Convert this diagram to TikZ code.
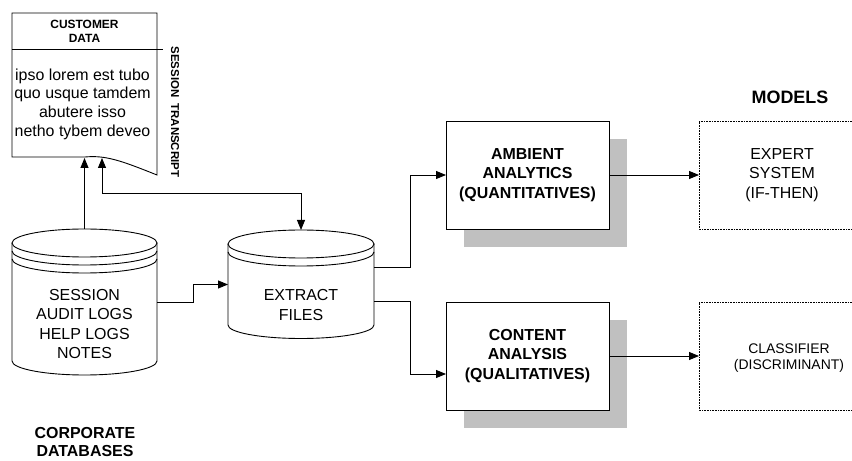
\documentclass[tikz,border=0pt]{standalone}
\usepackage{fontspec}
\setmainfont{Liberation Sans}
\usetikzlibrary{arrows.meta,shadows}
\definecolor{shade}{RGB}{192,192,192}
\tikzset{
  wire/.style={line width=0.9bp, draw=black},
  tip/.style={wire, -{Triangle[length=10bp,width=8bp]}},
  bothtips/.style={wire, {Triangle[length=10bp,width=8bp]}-{Triangle[length=10bp,width=8bp]}},
  anchorbox/.style={inner sep=0, outer sep=0},
  procbox/.style={draw, line width=0.9bp, fill=white, inner sep=0, outer sep=0,
    minimum width=163bp, minimum height=108bp, align=center,
    font=\fontsize{16}{19.5}\selectfont\bfseries,
    drop shadow={shadow xshift=18bp, shadow yshift=-18bp, fill=shade, opacity=1}},
  modelbox/.style={inner sep=0, outer sep=0, minimum height=108bp, align=center,
    font=\fontsize{16}{19.5}\selectfont},
  dotline/.style={line width=0.8bp, dash pattern=on 0.8bp off 0.8bp},
  plain/.style={align=center, inner sep=0, font=\fontsize{16}{19.3}\selectfont},
  heading/.style={align=center, inner sep=0, font=\fontsize{16}{19}\selectfont\bfseries}
}
\begin{document}
\begin{tikzpicture}[x=1bp, y=-1bp]
\path[use as bounding box] (0,0) rectangle (852,461);
\fill[white] (0,0) rectangle (852,461);
\coordinate (rim) at (852,0);

% customer data sheet
\draw[wire, fill=white] (12,13) -- (157,13) -- (157,175)
  .. controls (122,161) and (106,155) .. (85,157) -- (12,157) -- cycle;
\draw[wire] (12,49) -- (163,49);
\node[align=center, inner sep=0, font=\fontsize{12}{14}\selectfont\bfseries] (doctitle) at (84.5,31) {CUSTOMER\\DATA};
\node[align=center, inner sep=0, font=\fontsize{16}{18.7}\selectfont] (docbody) at (82.5,104)
  {ipso lorem est tubo\\quo usque tamdem\\abutere isso\\netho tybem deveo};
\node[inner sep=0, rotate=-90, font=\fontsize{11.5}{13}\selectfont\bfseries] (doctag) at (175,112)
  {SESSION\hspace{6bp}TRANSCRIPT};
\coordinate (dA) at (84.5,158);
\coordinate (dB) at (102,158);

% corporate databases cylinder
\node[anchorbox, minimum width=145bp, minimum height=146bp] (corp) at (84.5,302) {};
\filldraw[wire, fill=white] (12,243) -- (12,361)
  arc[start angle=180, end angle=360, x radius=72.5bp, y radius=14bp] -- (157,243);
\filldraw[wire, fill=white] (84.5,243) ellipse [x radius=72.5bp, y radius=14bp];
\draw[wire] (12,251) arc[start angle=180, end angle=360, x radius=72.5bp, y radius=14bp];
\draw[wire] (12,259) arc[start angle=180, end angle=360, x radius=72.5bp, y radius=14bp];
\node[plain] (corptext) at (84.5,324) {SESSION\\AUDIT LOGS\\HELP LOGS\\NOTES};
\node[heading] (corpname) at (85,442) {CORPORATE\\DATABASES};

% extract files cylinder
\node[anchorbox, minimum width=146bp, minimum height=109bp] (ext) at (301,284.5) {};
\filldraw[wire, fill=white] (228,244) -- (228,325)
  arc[start angle=180, end angle=360, x radius=73bp, y radius=13.5bp] -- (374,244);
\filldraw[wire, fill=white] (301,244) ellipse [x radius=73bp, y radius=14bp];
\draw[wire] (228,252) arc[start angle=180, end angle=360, x radius=73bp, y radius=14bp];
\node[plain] (exttext) at (301,305) {EXTRACT\\FILES};

% analysis boxes
\node[procbox] (amb) at (527.5,175) {AMBIENT\\ANALYTICS\\(QUANTITATIVES)};
\node[procbox] (con) at (527.5,356) {CONTENT\\ANALYSIS\\(QUALITATIVES)};

% models (boxes run on past the right edge)
\node[heading, font=\fontsize{18}{20}\selectfont\bfseries] (models) at (790,97) {MODELS};
\node[modelbox, minimum width=166bp] (exp) at (782,175) {EXPERT\\SYSTEM\\(IF-THEN)};
\draw[dotline] (exp.north west -| rim) -- (exp.north west) -- (exp.south west) -- (exp.south west -| rim);
\node[modelbox, minimum width=180bp, font=\fontsize{14}{16}\selectfont] (cls) at (789,358)
  {CLASSIFIER\\(DISCRIMINANT)};
\draw[dotline] ([yshift=2bp]cls.north west -| rim) -- ([yshift=2bp]cls.north west)
  -- ([yshift=2bp]cls.south west) -- ([yshift=2bp]cls.south west -| rim);

% connectors
\draw[tip] (corp.north) -- (dA);
\draw[bothtips] (dB) -- ++(0,35) -| (ext.north);
\draw[tip] (corp.east) -- ++(36,0) |- (ext.west);
\draw[tip] ([yshift=17bp]ext.east) -- ++(36,0) |- (amb.west);
\draw[tip] ([yshift=-17bp]ext.east) -- ++(36,0) |- ([yshift=-18bp]con.west);
\draw[tip] (amb.east) -- (exp.west);
\draw[tip] (con.east) -- (con.east -| cls.west);
\end{tikzpicture}
\end{document}
